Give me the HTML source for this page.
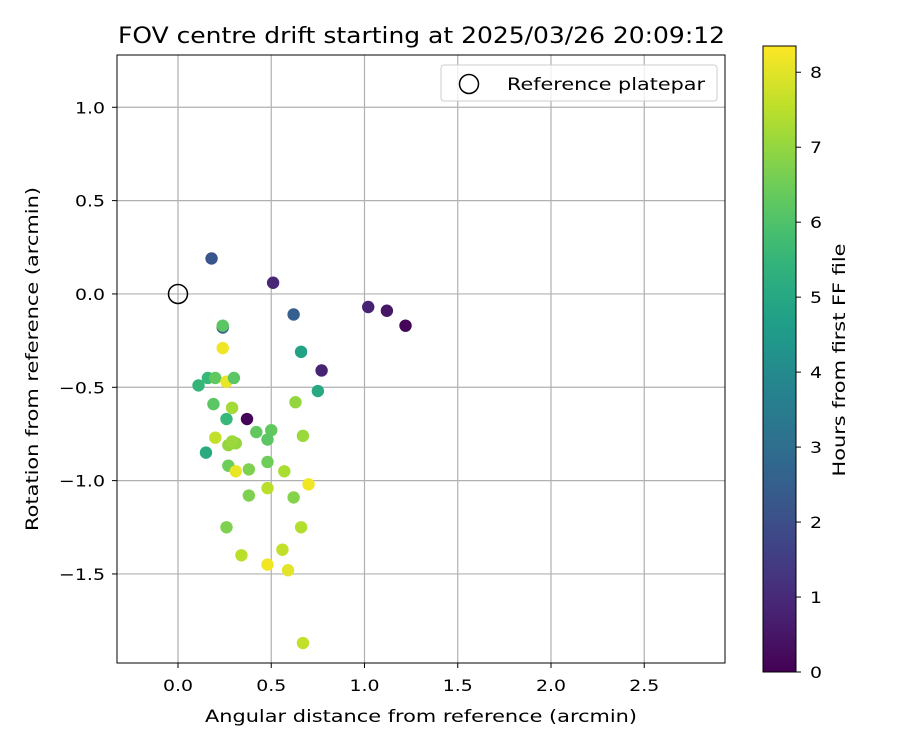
<!DOCTYPE html>
<html><head><meta charset="utf-8"><style>
body{margin:0;background:#fff;font-family:"DejaVu Sans","Liberation Sans",sans-serif}
svg text{font-family:"DejaVu Sans","Liberation Sans",sans-serif}
</style></head><body>
<svg id="chart" width="900" height="750" xmlns="http://www.w3.org/2000/svg"></svg>
<script>
const xVals=[0.18,0.51,0.62,1.02,1.12,1.22,0.77,0.66,0.75,0.24,0.24,0.24,0.11,0.16,0.20,0.26,0.30,0.19,0.29,0.26,0.37,0.42,0.50,0.48,0.63,0.20,0.31,0.27,0.29,0.15,0.27,0.31,0.38,0.48,0.57,0.70,0.38,0.48,0.62,0.67,0.26,0.66,0.34,0.56,0.48,0.59,0.67];
const yVals=[0.19,0.06,-0.11,-0.07,-0.09,-0.17,-0.41,-0.31,-0.52,-0.18,-0.17,-0.29,-0.49,-0.45,-0.45,-0.47,-0.45,-0.59,-0.61,-0.67,-0.67,-0.74,-0.73,-0.78,-0.58,-0.77,-0.80,-0.81,-0.79,-0.85,-0.92,-0.95,-0.94,-0.90,-0.95,-1.02,-1.08,-1.04,-1.09,-0.76,-1.25,-1.25,-1.40,-1.37,-1.45,-1.48,-1.87];
const hours=[2.2,0.9,2.5,0.8,0.5,0.1,0.8,4.8,5.0,2.5,6.2,8.2,5.5,5.6,6.3,8.1,6.2,6.2,7.2,5.6,0.1,6.3,6.3,6.2,7.0,7.6,7.0,7.0,7.1,5.1,6.5,8.1,6.7,6.5,7.3,8.2,6.7,7.5,6.8,7.1,6.7,7.4,7.5,7.6,8.2,8.0,7.6];
const xTicks=[0.0,0.5,1.0,1.5,2.0,2.5];
const yTicks=[1.0,0.5,0.0,-0.5,-1.0,-1.5];
const cTicks=[0,1,2,3,4,5,6,7,8];
const NS="http://www.w3.org/2000/svg";
const svg=document.getElementById('chart');
const L=117,R=725,T=55,B=663;
const xMin=-0.327,xMax=2.933,yMin=-1.977,yMax=1.28,cMax=8.35;
const sx=v=>L+(v-xMin)/(xMax-xMin)*(R-L);
const sy=v=>B-(v-yMin)/(yMax-yMin)*(B-T);
const vir=[[68,1,84],[72,40,120],[62,74,137],[49,104,142],[38,130,142],[31,158,137],[53,183,121],[109,205,89],[180,222,44],[253,231,37]];
function cmap(t){t=Math.max(0,Math.min(1,t));const f=t*9,i=Math.min(8,Math.floor(f)),r=f-i;const a=vir[i],b=vir[i+1];return `rgb(${a.map((c,k)=>Math.round(c+(b[k]-c)*r)).join(',')})`;}
function el(tag,attrs,txt){const e=document.createElementNS(NS,tag);for(const k in attrs)e.setAttribute(k,attrs[k]);if(txt!==undefined)e.textContent=txt;svg.appendChild(e);return e;}
xTicks.forEach(v=>{const g=el('line',{x1:sx(v),x2:sx(v),y1:T,y2:B,stroke:'#b0b0b0','stroke-width':1.2});

const t=el('line',{x1:sx(v),x2:sx(v),y1:B,y2:B+5,stroke:'#000'});
const l=el('text',{x:sx(v),y:B+28,'text-anchor':'middle','font-size':16,textLength:30,lengthAdjust:'spacingAndGlyphs'},v.toFixed(1));
});
yTicks.forEach(v=>{const g=el('line',{x1:L,x2:R,y1:sy(v),y2:sy(v),stroke:'#b0b0b0','stroke-width':1.2});

const t=el('line',{x1:L-5,x2:L,y1:sy(v),y2:sy(v),stroke:'#000'});
const s=(v<0?'\u2212':'')+Math.abs(v).toFixed(1);
const l=el('text',{x:L-12,y:sy(v)+6,'text-anchor':'end','font-size':16,textLength:v<0?46:30,lengthAdjust:'spacingAndGlyphs'},s);
});
xVals.forEach((x,i)=>{const c=el('circle',{cx:sx(x),cy:sy(yVals[i]),r:6.2,fill:cmap(hours[i]/cMax)});
});
const ref=el('circle',{cx:sx(0),cy:sy(0),r:9.5,fill:'none',stroke:'#000','stroke-width':1.5});

const fr=el('rect',{x:L,y:T,width:R-L,height:B-T,fill:'none',stroke:'#000','stroke-width':1});

const lg=el('rect',{x:441,y:65,width:276,height:36,rx:3,fill:'#fff',stroke:'#ccc','fill-opacity':0.8});

const lc=el('circle',{cx:469,cy:84,r:9.5,fill:'none',stroke:'#000','stroke-width':1.5});

const lt=el('text',{x:507,y:90,'font-size':17,textLength:198,lengthAdjust:'spacingAndGlyphs'},'Reference platepar');

const tt=el('text',{x:118,y:43,'font-size':22,textLength:607,lengthAdjust:'spacingAndGlyphs'},'FOV centre drift starting at 2025/03/26 20:09:12');

const xt=el('text',{x:205,y:722,'font-size':17,textLength:432,lengthAdjust:'spacingAndGlyphs'},'Angular distance from reference (arcmin)');

const yt=el('text',{x:0,y:0,'text-anchor':'middle','font-size':17,textLength:344,lengthAdjust:'spacingAndGlyphs',transform:'translate(38,359) rotate(-90)'},'Rotation from reference (arcmin)');

const CL=763,CR=796,CT=46,CB=672;
const defs=el('defs',{});
const grad=document.createElementNS(NS,'linearGradient');grad.setAttribute('id','vg');grad.setAttribute('x1',0);grad.setAttribute('y1',1);grad.setAttribute('x2',0);grad.setAttribute('y2',0);
for(let k=0;k<=20;k++){const s=document.createElementNS(NS,'stop');s.setAttribute('offset',k/20);s.setAttribute('stop-color',cmap(k/20));grad.appendChild(s);}
defs.appendChild(grad);
const cb=el('rect',{x:CL,y:CT,width:CR-CL,height:CB-CT,fill:'url(#vg)',stroke:'#000','stroke-width':1});

const cy=v=>CB-v/cMax*(CB-CT);
cTicks.forEach(v=>{const t=el('line',{x1:CR,x2:CR+5,y1:cy(v),y2:cy(v),stroke:'#000'});
const l=el('text',{x:CR+14,y:cy(v)+6,'font-size':16,textLength:12,lengthAdjust:'spacingAndGlyphs'},String(v));});
const ct=el('text',{x:0,y:0,'text-anchor':'middle','font-size':17,textLength:233,lengthAdjust:'spacingAndGlyphs',transform:'translate(845,360) rotate(-90)'},'Hours from first FF file');

</script>
</body></html>
